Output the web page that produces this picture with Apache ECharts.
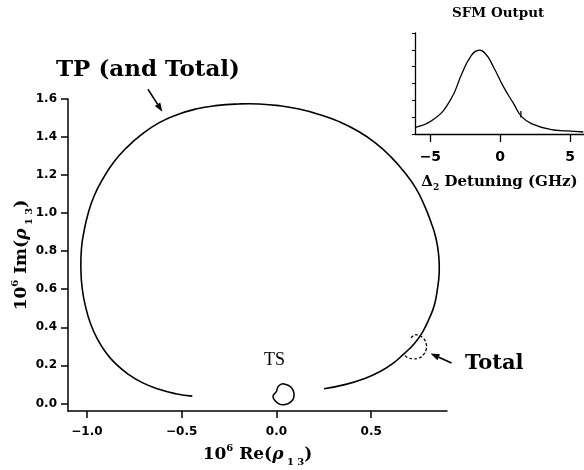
<!DOCTYPE html>
<html>
<head>
<meta charset="utf-8">
<script src="https://cdn.jsdelivr.net/npm/echarts@6/dist/echarts.min.js"></script>
<style>
html, body { margin: 0; padding: 0; background: #fff; }
#chart { width: 584px; height: 470px; }
</style>
</head>
<body>
<div id="chart"></div>
<script>
// Coherence trajectory: 10^6 Re(rho13) vs 10^6 Im(rho13)
const tpRe = [-0.444, -0.532, -0.620, -0.708, -0.779, -0.849, -0.902, -0.946, -0.981, -1.007, -1.025, -1.032, -1.029, -1.016, -0.993, -0.961, -0.915, -0.859, -0.789, -0.710, -0.623, -0.528, -0.426, -0.321, -0.198, -0.092, 0.014, 0.119, 0.225, 0.331, 0.436, 0.525, 0.604, 0.674, 0.736, 0.780, 0.815, 0.842, 0.856, 0.859, 0.850, 0.833, 0.806, 0.771, 0.727, 0.674, 0.613, 0.542, 0.463, 0.366, 0.251];
const tpIm = [0.038, 0.051, 0.074, 0.109, 0.151, 0.209, 0.270, 0.341, 0.419, 0.507, 0.604, 0.709, 0.814, 0.902, 1.001, 1.093, 1.182, 1.268, 1.346, 1.414, 1.473, 1.516, 1.547, 1.565, 1.574, 1.574, 1.565, 1.547, 1.519, 1.481, 1.428, 1.367, 1.296, 1.217, 1.130, 1.042, 0.954, 0.867, 0.779, 0.691, 0.604, 0.516, 0.446, 0.375, 0.314, 0.262, 0.209, 0.165, 0.130, 0.100, 0.077];

// Excursion of the total signal away from the TP path
const totalRe = [0.711, 0.729, 0.753, 0.776, 0.790, 0.790, 0.776, 0.750, 0.718, 0.690, 0.671];
const totalIm = [0.344, 0.360, 0.356, 0.341, 0.314, 0.284, 0.256, 0.238, 0.235, 0.242, 0.258];

// TS contribution: small closed loop near the origin
const tsRe = [0.040, 0.076, 0.093, 0.081, 0.040, 0.000, -0.018, 0.000, 0.007, 0.023];
const tsIm = [0.102, 0.086, 0.051, 0.012, -0.007, 0.007, 0.037, 0.063, 0.086, 0.100];

const xTicks = [-1.0, -0.5, 0.0, 0.5];
const yTicks = [0.0, 0.2, 0.4, 0.6, 0.8, 1.0, 1.2, 1.4, 1.6];

// Inset: SFM output vs Delta2 detuning (GHz)
const detuning = [-6.07, -4.76, -3.57, -2.74, -2.14, -1.59, -1.07, -0.48, 0.24, 0.95, 1.55, 2.38, 3.57, 4.76, 5.95];
const sfmOut = [0.40, 0.87, 2.01, 3.59, 4.57, 4.97, 4.78, 3.98, 2.80, 1.82, 1.02, 0.57, 0.28, 0.18, 0.12];
const markerDetuning = [1.48, 1.48];
const markerSfm = [0.98, 1.36];
const insetXTicks = [-5, 0, 5];
const insetYTicks = [0, 1, 2, 3, 4, 5, 6];

// Annotation arrows in data coordinates: [from, to]
const tpArrow = [[-0.678, 1.651], [-0.602, 1.533]];
const totalArrow = [[0.924, 0.212], [0.813, 0.262]];

const zip = (a, b) => a.map((v, i) => [v, b[i]]);
const fmt = v => (v < 0 ? '\u2212' : '') + Math.abs(v).toFixed(1);

const SERIF = 'DejaVu Serif';
const SANS = 'DejaVu Sans';

const nameRich = {
  b: { fontFamily: SERIF, fontWeight: 'bold', fontSize: 17, lineHeight: 24, color: '#000' },
  sup: { fontFamily: SERIF, fontWeight: 'bold', fontSize: 10, lineHeight: 12, verticalAlign: 'top', color: '#000' },
  rho: { fontFamily: SERIF, fontWeight: 'bold', fontStyle: 'italic', fontSize: 17, lineHeight: 24, color: '#000' },
  sub: { fontFamily: SERIF, fontWeight: 'bold', fontSize: 10, lineHeight: 12, verticalAlign: 'bottom', color: '#000' }
};

const axisLineStyle = { color: '#000', width: 1.5 };

// A smooth spline through all points of a series, placed via the axes' scales
function curveSeries(name, xs, ys, gridIdx, opts) {
  const data = zip(xs, ys);
  return {
    name, type: 'custom', xAxisIndex: gridIdx, yAxisIndex: gridIdx,
    data, clip: false, silent: true,
    encode: { x: 0, y: 1 },
    renderItem: (params, api) => {
      if (params.dataIndex !== 0) return null;
      const pts = data.map(d => api.coord(d));
      return {
        type: opts.closed ? 'polygon' : 'polyline',
        shape: { points: pts, smooth: opts.smooth },
        style: { stroke: '#000', fill: null, lineWidth: opts.width, lineDash: opts.dash || null }
      };
    }
  };
}

const chart = echarts.init(document.getElementById('chart'), null, { renderer: 'canvas' });

chart.setOption({
  animation: false,
  backgroundColor: '#fff',
  grid: [
    { left: 68, top: 99, width: 379, height: 312, outerBoundsMode: 'none', containLabel: false },
    { left: 415, top: 33, width: 169, height: 101, outerBoundsMode: 'none', containLabel: false }
  ],
  xAxis: [
    {
      gridIndex: 0, type: 'value', min: -1.1, max: 0.9,
      axisLine: { show: true, onZero: false, lineStyle: axisLineStyle },
      axisTick: { show: true, length: 7, customValues: xTicks, lineStyle: axisLineStyle },
      axisLabel: { customValues: xTicks, formatter: fmt, margin: 15, fontFamily: SANS, fontWeight: 'bold', fontSize: 12, color: '#000' },
      splitLine: { show: false },
      name: '{b|10}{sup|6}{b| Re(}{rho|\u03c1}{sub| 1 3}{b|)}',
      nameLocation: 'middle', nameGap: 32, nameMoveOverlap: false,
      nameTextStyle: { rich: nameRich }
    },
    {
      gridIndex: 1, type: 'value', min: -6.1, max: 6,
      axisLine: { show: true, onZero: false, lineStyle: { color: '#000', width: 1.3 } },
      axisTick: { show: true, length: 8, customValues: insetXTicks, lineStyle: { color: '#000', width: 1.3 } },
      axisLabel: { customValues: insetXTicks, formatter: v => (v < 0 ? '\u2212' : '') + Math.abs(v), margin: 16, fontFamily: SANS, fontWeight: 'bold', fontSize: 14, color: '#000' },
      splitLine: { show: false },
      name: '{d|\u0394}{s|2}{d| Detuning (GHz)}',
      nameLocation: 'middle', nameGap: 38, nameMoveOverlap: false,
      nameTextStyle: {
        rich: {
          d: { fontFamily: SERIF, fontWeight: 'bold', fontSize: 15, lineHeight: 20, color: '#000' },
          s: { fontFamily: SERIF, fontWeight: 'bold', fontSize: 9, lineHeight: 11, verticalAlign: 'bottom', color: '#000' }
        }
      }
    }
  ],
  yAxis: [
    {
      gridIndex: 0, type: 'value', min: -0.04, max: 1.6,
      axisLine: { show: true, onZero: false, lineStyle: axisLineStyle },
      axisTick: { show: true, length: 7, customValues: yTicks, lineStyle: axisLineStyle },
      axisLabel: { customValues: yTicks, formatter: fmt, margin: 11, fontFamily: SANS, fontWeight: 'bold', fontSize: 12, color: '#000' },
      splitLine: { show: false },
      name: '{b|10}{sup|6}{b| Im(}{rho|\u03c1}{sub| 1 3}{b|)}',
      nameLocation: 'middle', nameGap: 34, nameRotate: 90, nameMoveOverlap: false,
      nameTextStyle: { rich: nameRich }
    },
    {
      gridIndex: 1, type: 'value', min: 0, max: 6,
      axisLine: { show: true, onZero: false, lineStyle: { color: '#000', width: 1.3 } },
      axisTick: { show: true, length: 3, customValues: insetYTicks, lineStyle: { color: '#000', width: 1 } },
      axisLabel: { show: false },
      splitLine: { show: false }
    }
  ],
  series: [
    curveSeries('TP', tpRe, tpIm, 0, { smooth: 0.5, width: 1.6 }),
    curveSeries('Total', totalRe, totalIm, 0, { smooth: 0.5, width: 1.3, dash: [3, 2] }),
    curveSeries('TS', tsRe, tsIm, 0, { smooth: 0.5, width: 1.5, closed: true }),
    curveSeries('SFM', detuning, sfmOut, 1, { smooth: 0.5, width: 1.3 }),
    {
      name: 'marker', type: 'line', xAxisIndex: 1, yAxisIndex: 1,
      data: zip(markerDetuning, markerSfm), showSymbol: false,
      lineStyle: { color: '#000', width: 1.2 }
    }
  ]
});

// Annotation text and arrows
function arrow(fromTo) {
  const p0 = chart.convertToPixel({ gridIndex: 0 }, fromTo[0]);
  const p1 = chart.convertToPixel({ gridIndex: 0 }, fromTo[1]);
  const dx = p1[0] - p0[0], dy = p1[1] - p0[1];
  const len = Math.hypot(dx, dy);
  const ux = dx / len, uy = dy / len;
  const hl = 9, hw = 3.2;
  const bx = p1[0] - ux * hl, by = p1[1] - uy * hl;
  return [
    { type: 'line', shape: { x1: p0[0], y1: p0[1], x2: bx, y2: by }, style: { stroke: '#000', lineWidth: 1.6 } },
    { type: 'polygon', shape: { points: [[p1[0], p1[1]], [bx - uy * hw, by + ux * hw], [bx + uy * hw, by - ux * hw]] }, style: { fill: '#000' } }
  ];
}

const textStyle = (text, size, family, weight) => ({ text, fontSize: size, fontFamily: family, fontWeight: weight, fill: '#000' });

chart.setOption({
  graphic: [
    ...arrow(tpArrow),
    ...arrow(totalArrow),
    { type: 'text', left: 56, top: 59, style: textStyle('TP (and Total)', 23, SERIF, 'bold') },
    { type: 'text', left: 465, top: 353, style: textStyle('Total', 21, SERIF, 'bold') },
    { type: 'text', left: 264, top: 351, style: textStyle('TS', 18, 'Liberation Serif', 'normal') },
    { type: 'text', left: 452, top: 6, style: textStyle('SFM Output', 13.5, SERIF, 'bold') }
  ]
});
</script>
</body>
</html>
